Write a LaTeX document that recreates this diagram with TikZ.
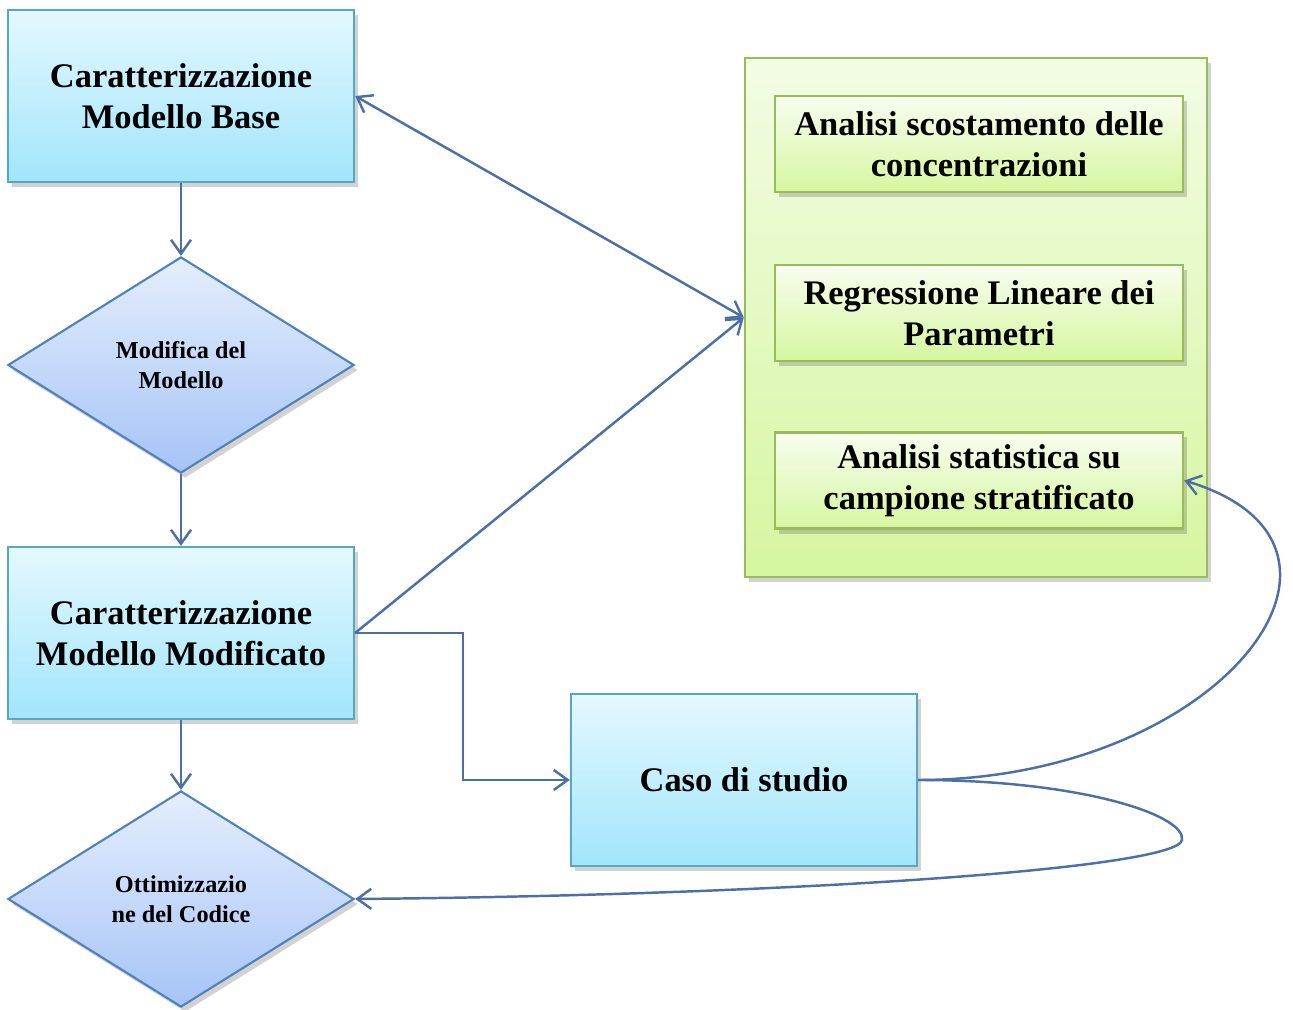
\documentclass[tikz,border=0pt]{standalone}
\usepackage{fontspec}
\setmainfont{Liberation Serif}
\usetikzlibrary{shapes.geometric,arrows.meta,shadows}

\definecolor{cyantop}{RGB}{228,248,254}
\definecolor{cyanbot}{RGB}{162,229,251}
\definecolor{cyanline}{RGB}{84,168,196}
\definecolor{bluetop}{RGB}{228,238,253}
\definecolor{bluebot}{RGB}{166,196,246}
\definecolor{blueline}{RGB}{79,129,189}
\definecolor{greentop}{RGB}{242,252,228}
\definecolor{greenbot}{RGB}{214,246,160}
\definecolor{greenline}{RGB}{155,187,89}
\definecolor{linkblue}{RGB}{76,112,166}

\tikzset{
  soft shadow/.style={drop shadow={shadow xshift=0.4mm,shadow yshift=-0.5mm,opacity=0.25,fill=black!70}},
  stepbox/.style={rectangle, draw=cyanline, line width=0.6pt, top color=cyantop, bottom color=cyanbot,
    minimum width=3.46cm, minimum height=1.72cm, inner sep=0pt, align=center,
    font=\fontsize{9.8}{11.7}\selectfont\bfseries, soft shadow},
  choice/.style={diamond, draw=blueline, line width=0.6pt, top color=bluetop, bottom color=bluebot,
    minimum width=3.46cm, minimum height=2.16cm, inner sep=0pt, align=center,
    font=\fontsize{6.9}{8.5}\selectfont\bfseries, soft shadow},
  group/.style={rectangle, draw=greenline, line width=0.6pt, top color=greentop, bottom color=greenbot,
    minimum width=4.62cm, minimum height=5.19cm, inner sep=0pt, soft shadow},
  anbox/.style={rectangle, draw=greenline, line width=0.6pt, top color=greentop!60!white, bottom color=greenbot,
    minimum width=4.08cm, minimum height=0.96cm, inner sep=0pt, align=center,
    font=\fontsize{9.8}{11.7}\selectfont\bfseries, soft shadow},
  link/.style={draw=linkblue, line width=0.7pt},
  >={Straight Barb[length=1.4mm,width=2mm]}
}

\begin{document}
\begin{tikzpicture}[x=0.01cm,y=-0.01cm]
\useasboundingbox (0,0) rectangle (1293,1010);
% left column
\node[stepbox] (base) at (181,96) {Caratterizzazione\\Modello Base};
\node[choice] (modifica) at (181,365) {Modifica del\\Modello};
\node[stepbox] (modificato) at (181,633) {Caratterizzazione\\Modello Modificato};
\node[choice] (ottim) at (181,899) {Ottimizzazio\\ne del Codice};
% analisi
\node[group] (analisi) at (976,317.5) {};
\node[anbox] (scost) at (979,144) {Analisi scostamento delle\\concentrazioni};
\node[anbox] (regr) at (979,313) {Regressione Lineare dei\\Parametri};
\node[anbox] (stat) at (979,480.5) {Analisi statistica su\\campione stratificato};
\node[stepbox] (caso) at (744,780) {Caso di studio};
\coordinate (gomito) at (463,633);
% links
\draw[link,->] (base) -- (modifica);
\draw[link,->] (modifica) -- (modificato);
\draw[link,->] (modificato) -- (ottim);
\draw[link,<->] (base.east) -- (analisi.west);
\draw[link,->] (modificato.east) -- (analisi.west);
\draw[link,->] (modificato.east) -- (gomito) |- (caso.west);
\draw[link,->] (caso.east) .. controls (1220,780) and (1400,545) .. (stat.east);
\draw[link,->] (caso.east) .. controls (1080,780) and (1186,815) .. (1182,840)
  .. controls (1178,868) and (800,895) .. (ottim.east);
\end{tikzpicture}
\end{document}
